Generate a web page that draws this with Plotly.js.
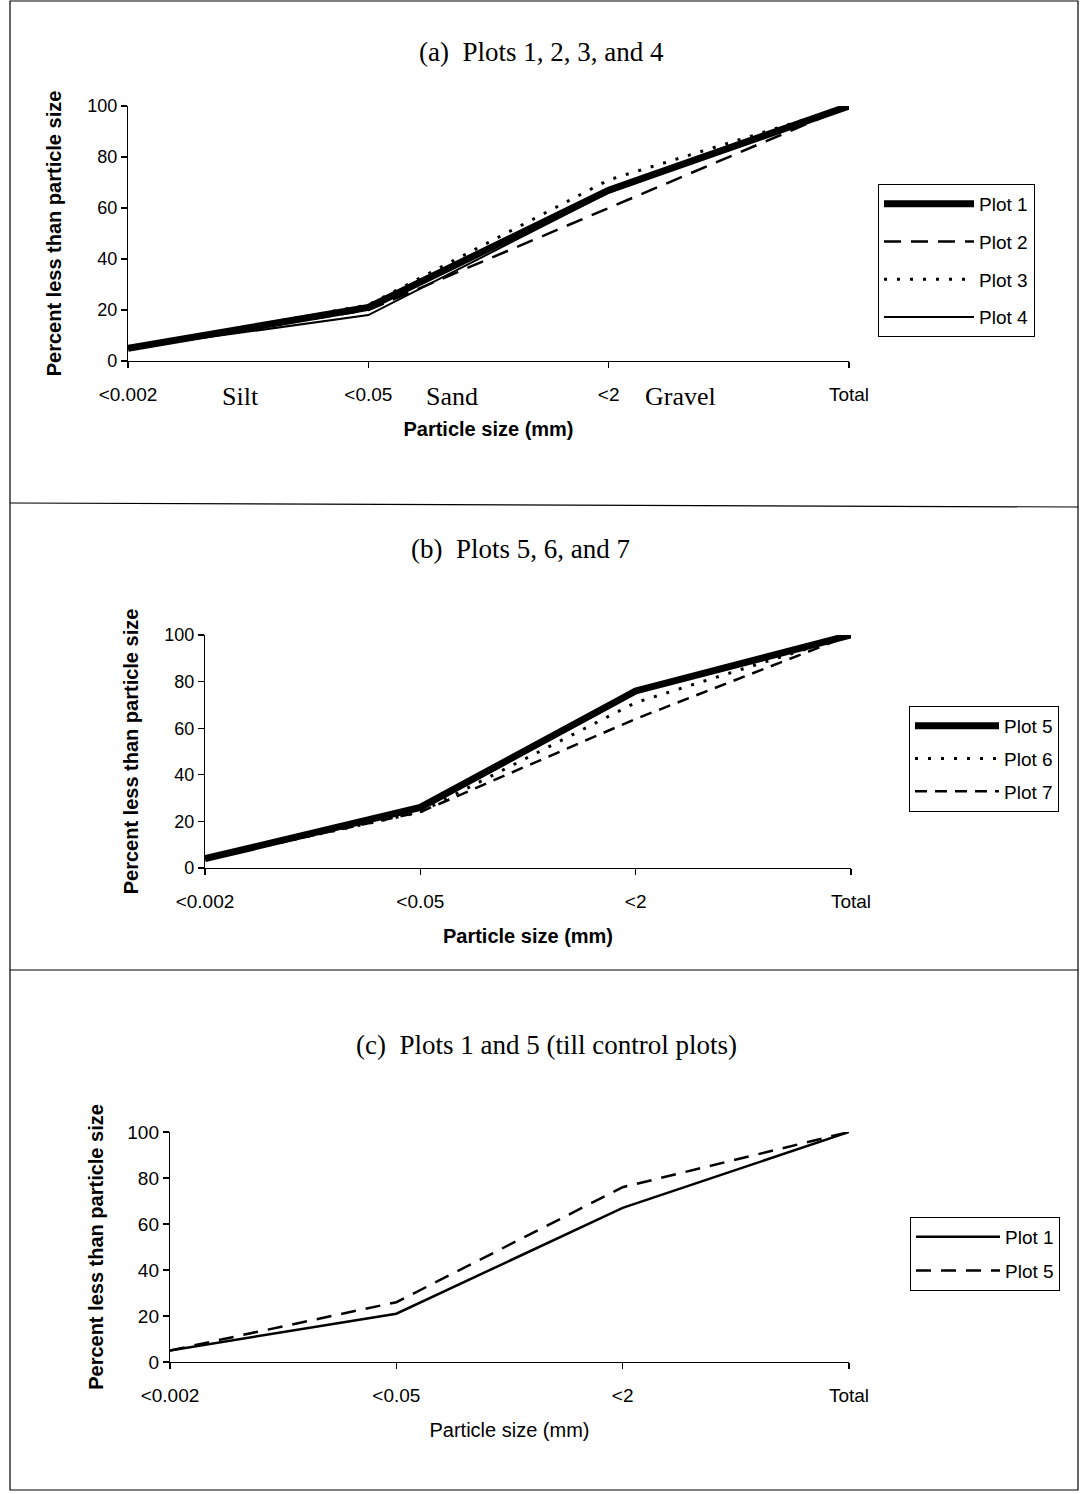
<!DOCTYPE html>
<html>
<head>
<meta charset="utf-8">
<script src="https://cdn.plot.ly/plotly-3.0.1.min.js"></script>
<style>html,body{margin:0;padding:0;background:#fff;}#chart{width:1080px;height:1494px;}</style>
</head>
<body>
<div id="chart"></div>
<script>
// ---- data ----
const categories = ["<0.002", "<0.05", "<2", "Total"];
const yTicks = [0, 20, 40, 60, 80, 100];

// Panel (a): Plots 1-4
const a_plot1 = [5, 21, 67, 100];
const a_plot2 = [5, 20, 60, 100];
const a_plot3 = [5, 22, 71, 100];
const a_plot4 = [5, 18, 66, 100];

// Panel (b): Plots 5-7
const b_plot5 = [4, 26, 76, 100];
const b_plot6 = [4, 24, 71, 100];
const b_plot7 = [4, 24, 64, 100];

// Panel (c): Plots 1 and 5
const c_plot1 = [5, 21, 67, 100];
const c_plot5 = [5, 26, 76, 100];

const textureLabels = ["Silt", "Sand", "Gravel"];
const textureX = [0.47, 1.35, 2.30];

// ---- layout helpers ----
const W = 1080, H = 1494;
const px = v => v / W;
const py = v => 1 - v / H;
const SANS = "Liberation Sans, Arial, sans-serif";
const SERIF = "Liberation Serif, Times New Roman, serif";

function tr(name, y, xa, ya, legend, width, dash, group) {
  return {
    type: "scatter", mode: "lines", name: name, x: categories, y: y,
    xaxis: xa, yaxis: ya, legend: legend, legendgroup: group,
    line: {color: "#000", width: width, dash: dash}
  };
}

const data = [
  tr("Plot 1", a_plot1, "x", "y", "legend", 7, "solid", "a1"),
  tr("Plot 2", a_plot2, "x", "y", "legend", 2.5, "17px,10px", "a2"),
  tr("Plot 3", a_plot3, "x", "y", "legend", 3, "3px,10px", "a3"),
  tr("Plot 4", a_plot4, "x", "y", "legend", 2, "solid", "a4"),
  tr("Plot 5", b_plot5, "x2", "y2", "legend2", 7, "solid", "b5"),
  tr("Plot 6", b_plot6, "x2", "y2", "legend2", 3, "3px,10px", "b6"),
  tr("Plot 7", b_plot7, "x2", "y2", "legend2", 2.5, "12px,8px", "b7"),
  tr("Plot 1", c_plot1, "x3", "y3", "legend3", 2.5, "solid", "c1"),
  tr("Plot 5", c_plot5, "x3", "y3", "legend3", 2.5, "15px,10px", "c5")
];

function xaxis(l, r, yref, boldTitle, titleText) {
  return {
    domain: [px(l), px(r)], anchor: yref, type: "category", range: [0, 3],
    showline: true, linecolor: "#000", linewidth: 1.2, showgrid: false, zeroline: false,
    ticks: "outside", ticklen: 6, tickcolor: "#000", tickwidth: 1.2,
    ticklabelstandoff: 10,
    tickfont: {family: SANS, size: 19, color: "#000"},
    title: {text: boldTitle ? "<b>" + titleText + "</b>" : titleText, standoff: 18,
            font: {family: SANS, size: 20, color: "#000"}}
  };
}
function yaxis(top, bottom, xref, standoff, tickSize) {
  return {
    domain: [py(bottom), py(top)], anchor: xref, range: [0, 100],
    tickvals: yTicks, showline: true, linecolor: "#000", linewidth: 1.2,
    showgrid: false, zeroline: false,
    ticks: "outside", ticklen: 6, tickcolor: "#000", tickwidth: 1.2,
    tickfont: {family: SANS, size: tickSize, color: "#000"},
    title: {text: "<b>Percent less than particle size</b>", standoff: standoff,
            font: {family: SANS, size: 20, color: "#000"}}
  };
}

function legendBox(x, y, gap, iw) {
  return {
    x: px(x), y: py(y), xanchor: "left", yanchor: "top",
    bgcolor: "#fff", bordercolor: "#000", borderwidth: 1,
    font: {family: SANS, size: 19, color: "#000"},
    traceorder: "grouped", tracegroupgap: gap, itemwidth: iw
  };
}

const annotations = [
  {text: "(a)  Plots 1, 2, 3, and 4", x: px(541), y: py(52), xref: "paper", yref: "paper",
   xanchor: "center", yanchor: "middle", showarrow: false, font: {family: SERIF, size: 27, color: "#000"}},
  {text: "(b)  Plots 5, 6, and 7", x: px(520), y: py(549), xref: "paper", yref: "paper",
   xanchor: "center", yanchor: "middle", showarrow: false, font: {family: SERIF, size: 27, color: "#000"}},
  {text: "(c)  Plots 1 and 5 (till control plots)", x: px(546), y: py(1045), xref: "paper", yref: "paper",
   xanchor: "center", yanchor: "middle", showarrow: false, font: {family: SERIF, size: 27, color: "#000"}}
];
textureLabels.forEach((t, i) => {
  annotations.push({text: t, x: textureX[i], y: py(397), xref: "x", yref: "paper",
    xanchor: "center", yanchor: "middle", showarrow: false, font: {family: SERIF, size: 26, color: "#000"}});
});

const shapes = [
  {type: "rect", xref: "paper", yref: "paper", x0: px(10), x1: px(1078), y0: py(1490), y1: py(1),
   line: {color: "#000", width: 1.2}},
  {type: "line", xref: "paper", yref: "paper", x0: px(10), x1: px(1078), y0: py(503), y1: py(507),
   line: {color: "#000", width: 1.2}},
  {type: "line", xref: "paper", yref: "paper", x0: px(10), x1: px(1078), y0: py(970), y1: py(970),
   line: {color: "#000", width: 1.2}}
];

const layout = {
  width: W, height: H, margin: {l: 0, r: 0, t: 0, b: 0},
  paper_bgcolor: "#fff", plot_bgcolor: "rgba(0,0,0,0)",
  showlegend: true,
  xaxis: xaxis(128, 849, "y", true, "Particle size (mm)"),
  yaxis: yaxis(106, 361, "x", 20, 18),
  xaxis2: xaxis(205, 851, "y2", true, "Particle size (mm)"),
  yaxis2: yaxis(635, 868, "x2", 20, 18),
  xaxis3: xaxis(170, 849, "y3", false, "Particle size (mm)"),
  yaxis3: yaxis(1132, 1362, "x3", 18, 19),
  legend: legendBox(878, 184, 10, 90),
  legend2: legendBox(909, 706, 5, 84),
  legend3: legendBox(910, 1217, 6, 84),
  annotations: annotations,
  shapes: shapes
};

Plotly.newPlot("chart", data, layout, {staticPlot: true});
</script>
</body>
</html>
